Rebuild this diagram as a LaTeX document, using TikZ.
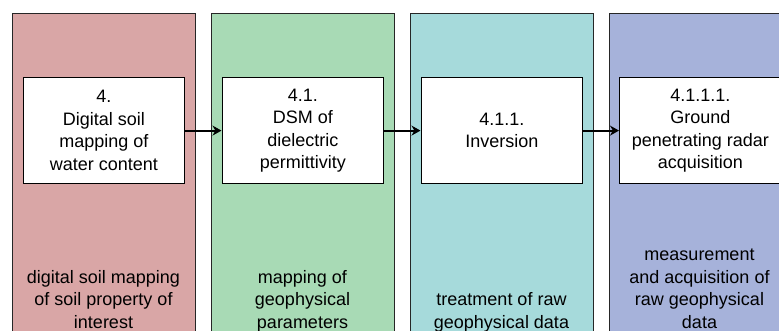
\documentclass[tikz,border=0pt]{standalone}
\usepackage{fontspec}
\setmainfont{Liberation Sans}
\usetikzlibrary{arrows.meta}
\definecolor{colA}{RGB}{217,166,166}
\definecolor{colB}{RGB}{168,218,181}
\definecolor{colC}{RGB}{166,218,219}
\definecolor{colD}{RGB}{166,178,218}
\begin{document}
\begin{tikzpicture}[x=1pt,y=-1pt,
  column/.style={draw=black!85, line width=1.2pt, anchor=north west, minimum width=183pt, minimum height=400pt, inner sep=0pt},
  box/.style={draw=black, line width=1.1pt, fill=white, anchor=north west, minimum width=161.5pt, minimum height=106.5pt, align=center, inner sep=0pt, font=\fontsize{18}{22.5}\selectfont},
  bottomtext/.style={anchor=south, align=center, inner sep=0pt, font=\fontsize{18}{22.5}\selectfont},
  flow/.style={line width=2pt, -{Stealth[length=9pt,width=10pt]}}]
\useasboundingbox (0,0) rectangle (779,331);
\clip (0,0) rectangle (779,331);
\fill[white] (0,0) rectangle (779,331);
% columns
\node[column, fill=colA] (c1) at (12,12.7) {};
\node[column, fill=colB] (c2) at (211,12.7) {};
\node[column, fill=colC] (c3) at (410,12.7) {};
\node[column, fill=colD] (c4) at (609,12.7) {};
% boxes
\node[box] (b1) at (22.5,76.8) {4.\\Digital soil\\mapping of\\water content};
\node[box] (b2) at (221.5,76.8) {4.1.\\DSM of\\dielectric\\permittivity};
\node[box] (b3) at (420.5,76.8) {4.1.1.\\Inversion};
\node[box] (b4) at (619,76.8) {4.1.1.1.\\Ground\\penetrating radar\\acquisition};
% bottom texts
\node[bottomtext] (t1) at (103.5,335.3) {digital soil mapping\\of soil property of\\interest\strut};
\node[bottomtext] (t2) at (302.5,335.3) {mapping of\\geophysical\\parameters\strut};
\node[bottomtext] (t3) at (501.5,335.3) {treatment of raw\\geophysical data\strut};
\node[bottomtext] (t4) at (699.5,335.3) {measurement\\and acquisition of\\raw geophysical\\data\strut};
% arrows
\draw[flow] (b1.east) -- (b2.west);
\draw[flow] (b2.east) -- (b3.west);
\draw[flow] (b3.east) -- (b4.west);
\end{tikzpicture}
\end{document}
